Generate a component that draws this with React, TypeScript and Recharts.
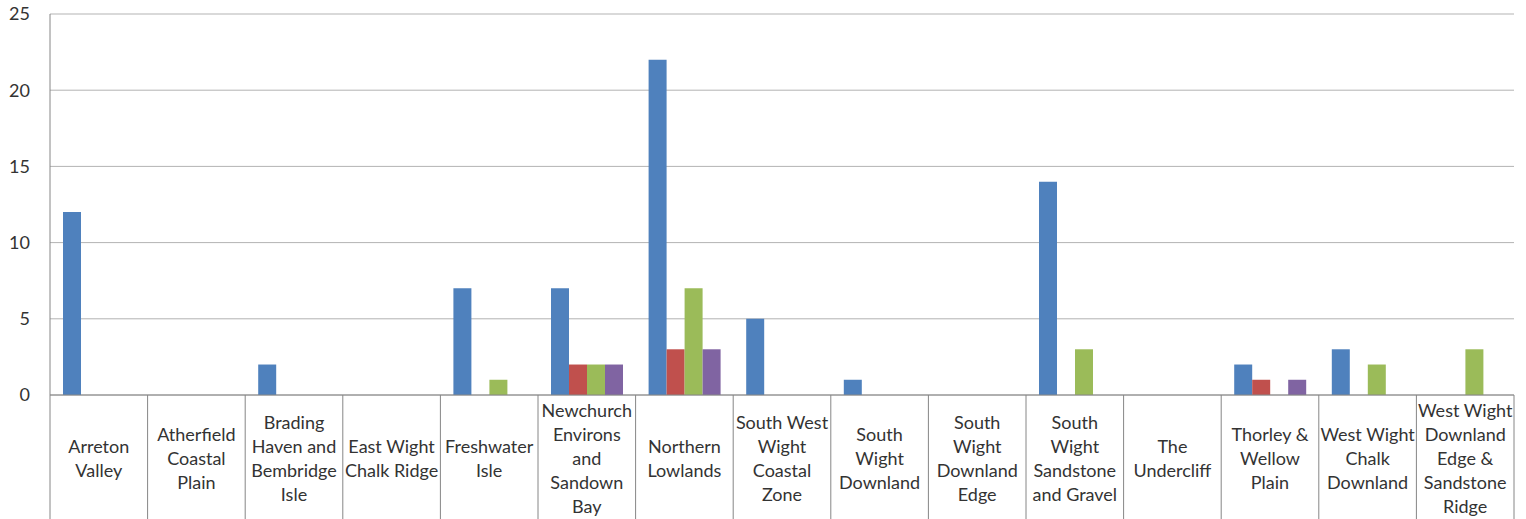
import React from "react";
import { BarChart, Bar, XAxis, YAxis, CartesianGrid } from "recharts";

// Landscape character areas along the category axis
const categories = [
  "Arreton Valley",
  "Atherfield Coastal Plain",
  "Brading Haven and Bembridge Isle",
  "East Wight Chalk Ridge",
  "Freshwater Isle",
  "Newchurch Environs and Sandown Bay",
  "Northern Lowlands",
  "South West Wight Coastal Zone",
  "South Wight Downland",
  "South Wight Downland Edge",
  "South Wight Sandstone and Gravel",
  "The Undercliff",
  "Thorley & Wellow Plain",
  "West Wight Chalk Downland",
  "West Wight Downland Edge & Sandstone Ridge",
];

// Wrapped tick labels, one entry per category
const labelLines = [
  ["Arreton", "Valley"],
  ["Atherfield", "Coastal", "Plain"],
  ["Brading", "Haven and", "Bembridge", "Isle"],
  ["East Wight", "Chalk Ridge"],
  ["Freshwater", "Isle"],
  ["Newchurch", "Environs", "and", "Sandown", "Bay"],
  ["Northern", "Lowlands"],
  ["South West", "Wight", "Coastal", "Zone"],
  ["South", "Wight", "Downland"],
  ["South", "Wight", "Downland", "Edge"],
  ["South", "Wight", "Sandstone", "and Gravel"],
  ["The", "Undercliff"],
  ["Thorley &", "Wellow", "Plain"],
  ["West Wight", "Chalk", "Downland"],
  ["West Wight", "Downland", "Edge &", "Sandstone", "Ridge"],
];

const series1 = [12, 0, 2, 0, 7, 7, 22, 5, 1, 0, 14, 0, 2, 3, 0];
const series2 = [0, 0, 0, 0, 0, 2, 3, 0, 0, 0, 0, 0, 1, 0, 0];
const series3 = [0, 0, 0, 0, 1, 2, 7, 0, 0, 0, 3, 0, 0, 2, 3];
const series4 = [0, 0, 0, 0, 0, 2, 3, 0, 0, 0, 0, 0, 1, 0, 0];

const yTicks = [0, 5, 10, 15, 20, 25];

const data = categories.map((name, i) => ({
  name,
  s1: series1[i],
  s2: series2[i],
  s3: series3[i],
  s4: series4[i],
}));

const WIDTH = 1526;
const HEIGHT = 519;
const MARGIN = { top: 14, right: 12, bottom: 0, left: 0 };
const Y_AXIS_WIDTH = 50;
const X_AXIS_HEIGHT = 124;
const BAND = (WIDTH - MARGIN.left - MARGIN.right - Y_AXIS_WIDTH) / categories.length;

const FONT = "Lato, 'Open Sans', sans-serif";
const TEXT = "#333333";
const AXIS = "#868686";

function CategoryTick(props: any) {
  const { x, y, payload, index } = props;
  const lines = labelLines[categories.indexOf(payload.value)] || [payload.value];
  const lineH = 24;
  const mid = y + X_AXIS_HEIGHT / 2 + 2;
  const first = mid - ((lines.length - 1) * lineH) / 2;
  const left = x - BAND / 2;
  const right = x + BAND / 2;
  return (
    <g>
      <line x1={left} x2={left} y1={y} y2={HEIGHT} stroke={AXIS} strokeWidth={1} />
      {index === categories.length - 1 && (
        <line x1={right} x2={right} y1={y} y2={HEIGHT} stroke={AXIS} strokeWidth={1} />
      )}
      <text textAnchor="middle" fontFamily={FONT} fontSize={18} fill={TEXT}>
        {lines.map((ln: string, i: number) => (
          <tspan key={i} x={x} y={first + i * lineH} dy="0.36em">
            {ln}
          </tspan>
        ))}
      </text>
    </g>
  );
}

export default function App() {
  return (
    <div style={{ position: "absolute", left: 0, top: 0, width: WIDTH, height: HEIGHT, background: "#fff" }}>
      <BarChart
        width={WIDTH}
        height={HEIGHT}
        data={data}
        margin={MARGIN}
        barSize={18}
        barGap={0}
      >
        <CartesianGrid vertical={false} stroke="#b3b3b3" strokeWidth={1} />
        <XAxis
          dataKey="name"
          interval={0}
          height={X_AXIS_HEIGHT}
          tickLine={false}
          tickSize={0}
          tickMargin={0}
          stroke={AXIS}
          tick={<CategoryTick />}
        />
        <YAxis
          width={Y_AXIS_WIDTH}
          domain={[0, 25]}
          ticks={yTicks}
          tickLine={false}
          tickSize={0}
          tickMargin={20}
          stroke={AXIS}
          tick={{ fontFamily: FONT, fontSize: 18, fill: TEXT }}
        />
        <Bar dataKey="s1" fill="#4F81BD" isAnimationActive={false} />
        <Bar dataKey="s2" fill="#C0504D" isAnimationActive={false} />
        <Bar dataKey="s3" fill="#9BBB59" isAnimationActive={false} />
        <Bar dataKey="s4" fill="#8064A2" isAnimationActive={false} />
      </BarChart>
    </div>
  );
}
